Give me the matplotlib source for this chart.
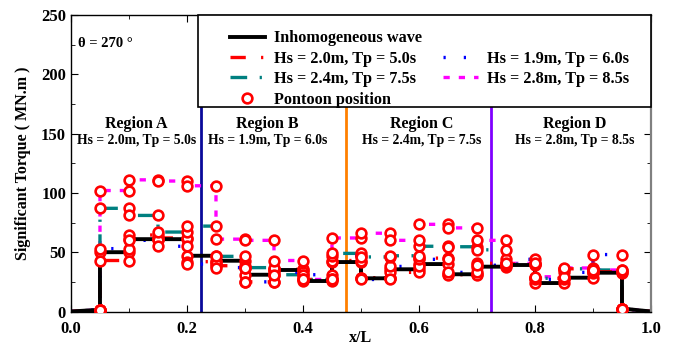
import matplotlib
matplotlib.use('Agg')
import matplotlib.pyplot as plt
from matplotlib.lines import Line2D
from matplotlib.patches import Rectangle
import numpy as np

# ----- Data ---------------------------------------------------------------------------------------------------------- #

# Pontoon positions along the bridge (x/L)
PONTOON_X = [0.05, 0.10, 0.15, 0.20, 0.25, 0.30, 0.35, 0.40, 0.45, 0.50,
             0.55, 0.60, 0.65, 0.70, 0.75, 0.80, 0.85, 0.90, 0.95]

# Significant torque (MN.m) on each span between neighbouring pontoons
INHOMOGENEOUS = [50, 61, 61, 47, 42.8, 31, 35, 25.7, 41.7, 28, 35.6, 40, 31.4, 37.8, 39.2, 24, 28.5, 32.7]
HS20_TP50 = [43, 64.5, 62, 42, 38.6, 25, 35.6, 27, 43, 28.5, 33, 45, 31, 40.6, 40, 28, 36, 33.5]
HS19_TP60 = [53, 60, 55, 40, 37, 25, 33, 31, 47, 27, 38, 44, 33, 39, 44, 27, 33, 48]
HS24_TP75 = [87, 81, 67, 72, 46.5, 37, 31, 27, 49, 46, 47, 55, 54.6, 52, 40, 28, 36, 35]
HS28_TP85 = [102, 111, 110, 106, 61, 60, 43, 27, 62, 66, 60, 73.5, 70.5, 60, 40.6, 29.3, 36.7, 35]

# Torque at the free ends (x/L = 0 -> first pontoon, last pontoon -> x/L = 1)
END_START = [0.0, 1.5]
END_STOP = [2.5, 0.0]

# Region boundaries and labels
REGION_BOUNDS = [0.225, 0.475, 0.725]
REGION_NAMES = ['Region A', 'Region B', 'Region C', 'Region D']
REGION_WAVES = ['Hs = 2.0m, Tp = 5.0s', 'Hs = 1.9m, Tp = 6.0s', 'Hs = 2.4m, Tp = 7.5s', 'Hs = 2.8m, Tp = 8.5s']
REGION_CENTRES = [0.113, 0.339, 0.605, 0.869]

# ----- Styling ------------------------------------------------------------------------------------------------------- #

plt.rcParams['font.family'] = ['Liberation Serif', 'DejaVu Serif']
plt.rcParams['font.weight'] = 'bold'
plt.rcParams['lines.scale_dashes'] = False

SERIES = [
    ('Inhomogeneous wave', INHOMOGENEOUS, dict(color='black', lw=2.8, linestyle='-')),
    ('Hs = 2.0m, Tp = 5.0s', HS20_TP50, dict(color='#ff0000', lw=2.4, linestyle=(0, (11, 11, 1.6, 6)))),
    ('Hs = 1.9m, Tp = 6.0s', HS19_TP60, dict(color='#0000ff', lw=2.4, linestyle=(0, (1.6, 13)))),
    ('Hs = 2.4m, Tp = 7.5s', HS24_TP75, dict(color='#008080', lw=2.4, linestyle=(0, (12, 9, 1.6, 9)))),
    ('Hs = 2.8m, Tp = 8.5s', HS28_TP85, dict(color='#ff00ff', lw=2.4, linestyle=(0, (4.5, 6.5)))),
]

REGION_COLOURS = ['#0a0a9a', '#ff8000', '#8000ff']
MARKER = dict(marker='o', ms=7, mfc='white', mec='#ff0000', mew=1.9)
LEGEND_BOTTOM = 172.4  # torque level of the legend box's lower edge


def step_profile(spans):
    """Build a stepwise profile that jumps at every pontoon."""
    xs = [0.0, PONTOON_X[0]]
    ys = [END_START[0], END_START[1]]
    for i, value in enumerate(spans):
        xs += [PONTOON_X[i], PONTOON_X[i + 1]]
        ys += [value, value]
    xs += [PONTOON_X[-1], 1.0]
    ys += [END_STOP[0], END_STOP[1]]
    return xs, ys


def pontoon_values(spans):
    """Values just left and right of every pontoon."""
    left = [END_START[1]] + list(spans)
    right = list(spans) + [END_STOP[0]]
    return left, right


fig = plt.figure(figsize=(6.76, 3.46), dpi=100)
ax = fig.add_axes([0.105, 0.0997, 0.858, 0.857])

# Region dividers
for xb, col in zip(REGION_BOUNDS, REGION_COLOURS):
    ax.axvline(xb, color=col, lw=2.0, zorder=1)

# Torque profiles (draw from back to front)
for label, spans, style in SERIES[::-1]:
    xs, ys = step_profile(spans)
    ax.plot(xs, ys, zorder=2 if label != 'Inhomogeneous wave' else 2.5, **style)

# Pontoon markers
for label, spans, style in SERIES:
    left, right = pontoon_values(spans)
    for vals in (left, right):
        ax.plot(PONTOON_X, vals, linestyle='none', zorder=3, **MARKER)

# Region annotations
for name, wave, xc in zip(REGION_NAMES, REGION_WAVES, REGION_CENTRES):
    ax.text(xc, 158, name, ha='center', va='center', fontsize=11.5, fontweight='bold')
    ax.text(xc, 144.5, wave, ha='center', va='center', fontsize=9.8, fontweight='bold')

ax.text(0.012, 226, 'θ = 270 °', ha='left', va='center', fontsize=10.5, fontweight='bold')

# Legend box, drawn separately so the entries can sit freely inside it
ax.add_patch(Rectangle((0.219, LEGEND_BOTTOM / 250), 0.781, 1 - LEGEND_BOTTOM / 250, transform=ax.transAxes,
                       facecolor='white', edgecolor='black', lw=1.2, zorder=4, clip_on=False))

blank = Line2D([], [], linestyle='none')
handles = [Line2D([], [], **SERIES[0][2]), Line2D([], [], **SERIES[1][2]), Line2D([], [], **SERIES[3][2]),
           Line2D([], [], linestyle='none', **MARKER),
           blank, Line2D([], [], **SERIES[2][2]), Line2D([], [], **SERIES[4][2]), blank]
labels = [SERIES[0][0], SERIES[1][0], SERIES[3][0], 'Pontoon position', '', SERIES[2][0], SERIES[4][0], '']
leg = ax.legend(handles, labels, ncol=2, loc='upper left', bbox_to_anchor=(0.274, 0.948), borderaxespad=0,
                frameon=False, fontsize=11.7, handlelength=2.15, labelspacing=0.27, columnspacing=1.3,
                borderpad=0, handletextpad=0.55)
leg.set_zorder(5)

# Axes
ax.set_xlim(0, 1.0)
ax.set_ylim(0, 250)
ax.set_xticks([0, 0.2, 0.4, 0.6, 0.8, 1.0])
ax.set_xticks(np.arange(0, 1.01, 0.1), minor=True)
ax.set_yticks([0, 50, 100, 150, 200, 250])
ax.set_yticks(np.arange(0, 251, 25), minor=True)
ax.set_xticklabels(['0.0', '0.2', '0.4', '0.6', '0.8', '1.0'])
ax.tick_params(which='both', direction='in', top=True, right=True, labelsize=12)
ax.tick_params(which='major', length=5)
ax.tick_params(which='minor', length=3)
ax.tick_params(axis='x', pad=6.5)
for lab in ax.get_xticklabels() + ax.get_yticklabels():
    lab.set_fontweight('bold')
for side in ['left', 'bottom', 'top']:
    ax.spines[side].set_linewidth(1.0)
ax.spines['right'].set_color('#808080')
ax.spines['right'].set_linewidth(1.6)

ax.set_xlabel('x/L', fontsize=11.5, fontweight='bold', labelpad=-5)
ax.set_ylabel('Significant Torque ( MN.m )', fontsize=11.5, fontweight='bold', labelpad=7)

fig.savefig('out.png', dpi=100)
